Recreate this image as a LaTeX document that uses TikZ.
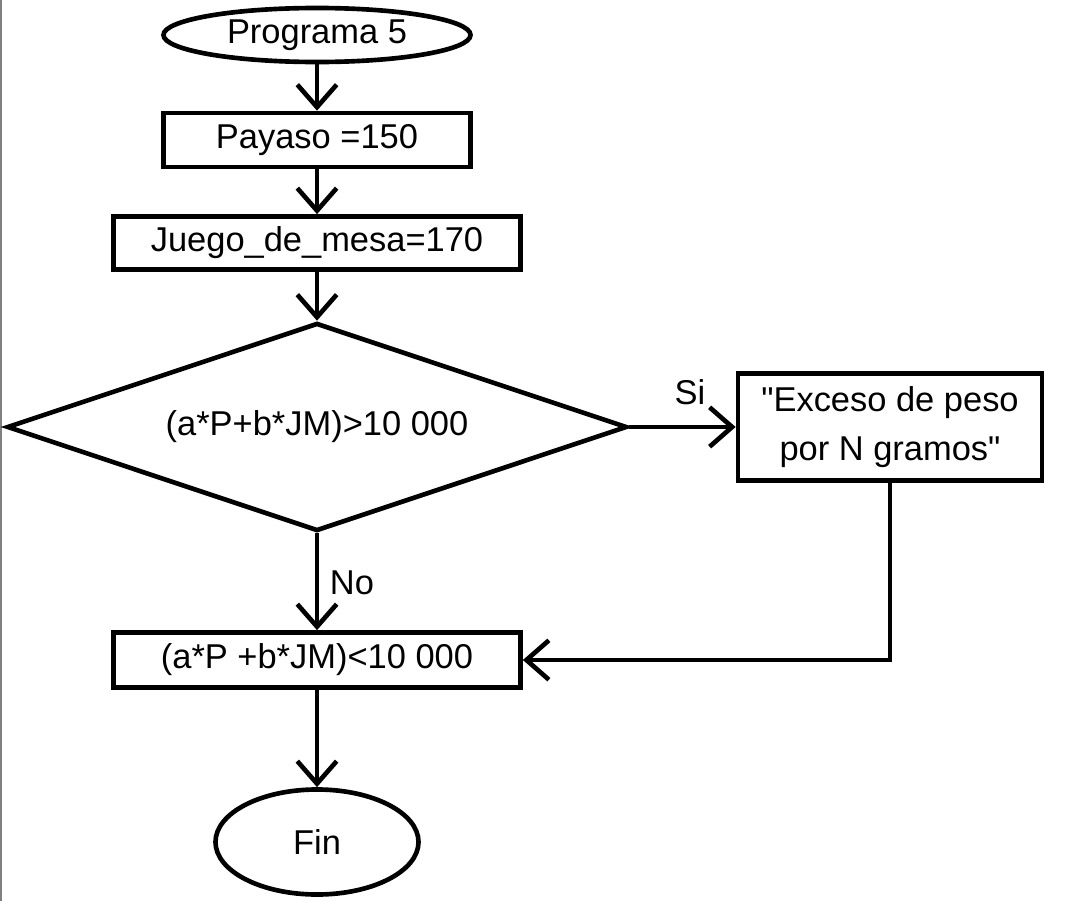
\documentclass[tikz,border=0pt]{standalone}
\usepackage{fontspec}
\setmainfont{Liberation Sans}[Ligatures=TeXOff]
\usetikzlibrary{shapes.geometric,arrows.meta}
\begin{document}
\begin{tikzpicture}[x=0.025cm,y=-0.025cm,
	every node/.style={font=\fontsize{24.5}{35}\selectfont},
	base/.style={draw,line width=3.3pt,inner sep=0pt},
	terminal/.style={base,ellipse},
	proceso/.style={base,rectangle},
	decision/.style={base,diamond,aspect=3},
	flecha/.style={line width=3.3pt,-{Straight Barb[length=16pt,width=28pt]}}]
\useasboundingbox (0,0) rectangle (1080,901);
\fill[white] (0,0) rectangle (1080,901);
\draw[gray,line width=1.2pt] (1,0) -- (1,901);
% nodos
\node[terminal,minimum width=7.675cm,minimum height=1.35cm] (inicio) at (317,35) {Programa 5};
\node[proceso,minimum width=7.675cm,minimum height=1.35cm] (payaso) at (317,140) {Payaso =150};
\node[proceso,minimum width=10.175cm,minimum height=1.325cm] (juego) at (317,243) {Juego\_de\_mesa=170};
\node[decision,minimum width=15.5cm,minimum height=5.2cm] (cond) at (317,427) {(a*P+b*JM)>10 000};
\node[proceso,align=center,minimum width=7.6cm,minimum height=2.675cm] (exceso) at (890,427) {"Exceso de peso\\por N gramos"};
\node[proceso,minimum width=10.175cm,minimum height=1.375cm] (check) at (317,660) {(a*P +b*JM)<10 000};
\node[terminal,minimum width=5.075cm,minimum height=2.625cm] (fin) at (317,842) {Fin};
% flechas
\draw[flecha] (inicio) -- (payaso);
\draw[flecha] (payaso) -- (juego);
\draw[flecha] (juego) -- (cond);
\draw[flecha] (cond.east) -- (exceso.west);
\draw[flecha] (cond.south) -- (check.north);
\draw[flecha] (exceso.south) |- (check.east);
\draw[flecha] (check) -- (fin);
\node (si) at (690,392) {Si};
\node (no) at (352,583) {No};
\end{tikzpicture}
\end{document}
